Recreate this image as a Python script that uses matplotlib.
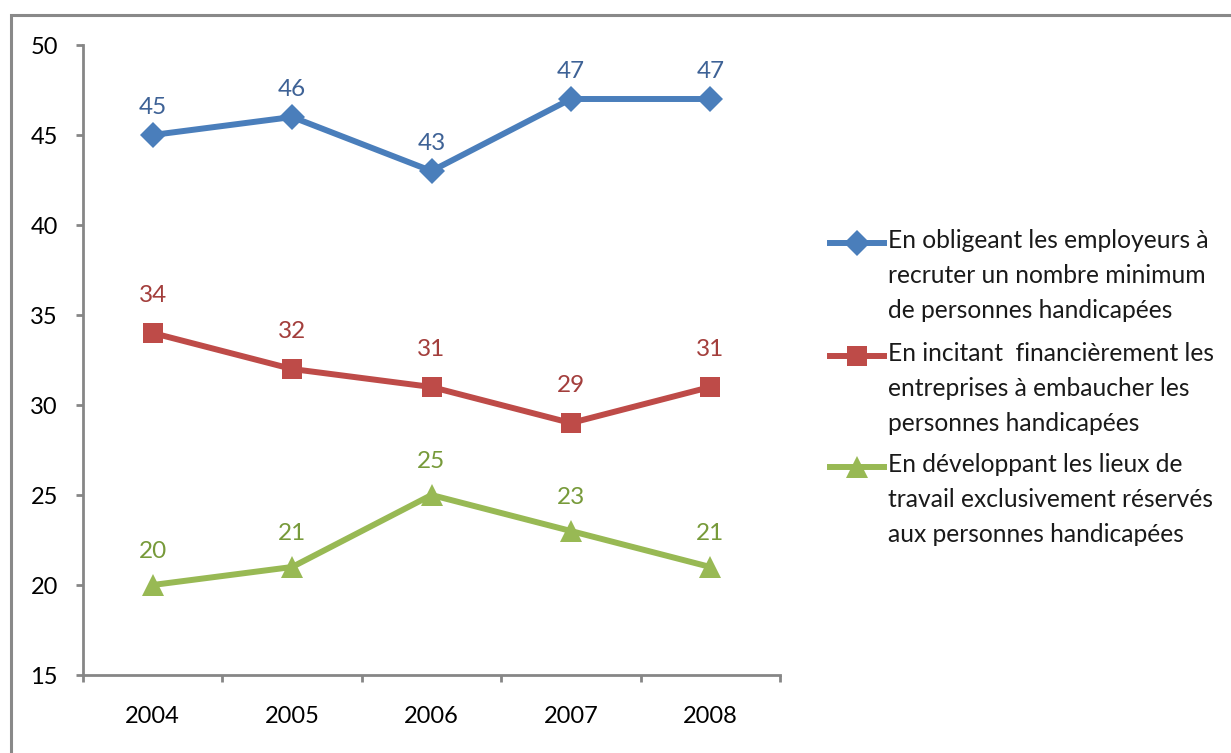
import matplotlib.pyplot as plt
import matplotlib.patches as patches
from matplotlib.lines import Line2D

years = ["2004", "2005", "2006", "2007", "2008"]
obliger = [45, 46, 43, 47, 47]
inciter = [34, 32, 31, 29, 31]
developper = [20, 21, 25, 23, 21]

labels = ["En obligeant les employeurs à\nrecruter un nombre minimum\nde personnes handicapées",
          "En incitant  financièrement les\nentreprises à embaucher les\npersonnes handicapées",
          "En développant les lieux de\ntravail exclusivement réservés\naux personnes handicapées"]

plt.rcParams['font.family'] = ['Lato', 'DejaVu Sans']

fig = plt.figure(figsize=(12.31, 7.53), dpi=100)
fig.patches.append(patches.Rectangle((11/1231, -0.1), 1.2, 1 - 15/753 + 0.1,
                                     transform=fig.transFigure, fill=False,
                                     edgecolor="#898989", linewidth=2.2))
ax = fig.add_axes([83/1231, 78/753, 697/1231, 630/753])

x = range(len(years))
series = [
    (obliger, "#4A7EBB", "#3E6296", "D", 13.5, 20),
    (inciter, "#BE4B48", "#A33E3C", "s", 14.5, 27),
    (developper, "#98B954", "#779A3A", "^", 15.5, 24),
]
for vals, col, lcol, mk, ms, off in series:
    ax.plot(x, vals, color=col, linewidth=4.3, marker=mk, markersize=ms,
            markeredgewidth=0)
    for xi, v in zip(x, vals):
        ax.annotate(str(v), (xi, v), xytext=(0, off), textcoords="offset points",
                    ha="center", va="center", fontsize=17.5, color=lcol)

ax.set_xlim(-0.5, 4.5)
ax.set_ylim(15, 50)
ax.set_yticks(range(15, 51, 5))
ax.set_xticks(list(x))
ax.set_xticklabels(years)
ax.set_xticks([i - 0.5 for i in range(len(years) + 1)], minor=True)

for s in ["top", "right"]:
    ax.spines[s].set_visible(False)
for s in ["left", "bottom"]:
    ax.spines[s].set_color("#868686")
    ax.spines[s].set_linewidth(2)

ax.tick_params(axis="y", direction="out", length=5, width=2, color="#868686",
               labelsize=17, pad=13)
ax.tick_params(axis="x", which="major", length=0, labelsize=17, pad=22)
ax.tick_params(axis="x", which="minor", direction="out", length=5, width=2,
               color="#868686")

# legend drawn by hand so the handle sits on the first line of each entry
W, H = 1231, 753
first_line = [243, 356, 467]
for (vals, col, lcol, mk, ms, off), lab, yc in zip(series, labels, first_line):
    yf = 1 - yc / H
    fig.add_artist(Line2D([830 / W, 884 / W], [yf, yf], color=col, linewidth=4.3,
                          transform=fig.transFigure))
    fig.add_artist(Line2D([857 / W], [yf], color=col, marker=mk, markersize=ms,
                          markeredgewidth=0, transform=fig.transFigure))
    fig.text(888 / W, 1 - (yc - 14) / H, lab, fontsize=17.7, va="top", ha="left",
             linespacing=1.62, color="#1a1a1a")

fig.savefig("out.png", dpi=100)
